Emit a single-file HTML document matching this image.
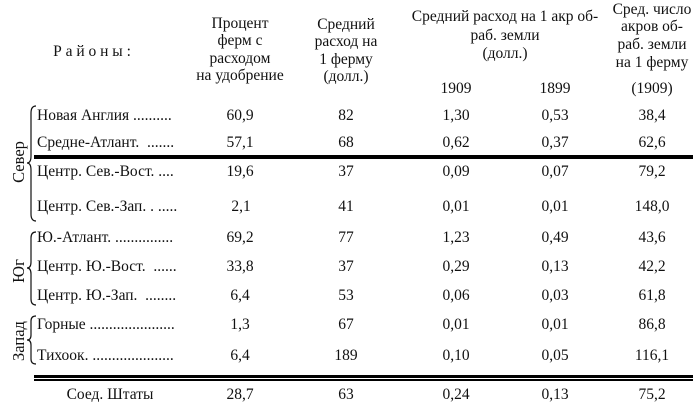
<!DOCTYPE html>
<html><head><meta charset="utf-8">
<style>
html,body{margin:0;padding:0;background:#fff;}
body{width:696px;height:410px;position:relative;overflow:hidden;font-family:"Liberation Serif","Noto Serif CJK SC",serif;font-size:15.5px;color:#111;}
.c{position:absolute;width:160px;margin-left:-80px;text-align:center;line-height:17.5px;white-space:nowrap;}
.l{position:absolute;left:37px;line-height:17.5px;white-space:nowrap;}
.v{position:absolute;width:60px;height:18px;line-height:18px;text-align:center;transform:rotate(-90deg);white-space:nowrap;font-size:16.5px;}
.bar{position:absolute;left:34px;width:659px;background:#000;}
</style></head><body>

<div class="c" style="left:92px;top:43px;">Р а й о н ы :</div>

<div class="c" style="left:240px;top:14.5px;">Процент<br>ферм с<br>расходом<br>на удобрение</div>
<div class="c" style="left:346px;top:15.5px;">Средний<br>расход на<br>1 ферму<br>(долл.)</div>
<div class="c" style="left:505px;top:8px;width:220px;margin-left:-110px;line-height:18.5px;">Средний расход на 1 акр об-<br>раб. земли<br>(долл.)</div>
<div class="c" style="left:652px;top:0.5px;line-height:17.7px;">Сред. число<br>акров об-<br>раб. земли<br>на 1 ферму</div>
<div class="c" style="left:456px;top:80.2px;">1909</div>
<div class="c" style="left:555px;top:80.2px;">1899</div>
<div class="c" style="left:652px;top:80.2px;">(1909)</div>

<!-- rows -->
<div class="l" style="top:107.2px;">Новая Англия ..........</div>
<div class="c" style="left:240px;top:107.2px;">60,9</div><div class="c" style="left:346px;top:107.2px;">82</div><div class="c" style="left:456px;top:107.2px;">1,30</div><div class="c" style="left:555px;top:107.2px;">0,53</div><div class="c" style="left:652px;top:107.2px;">38,4</div>

<div class="l" style="top:134.2px;">Средне-Атлант. &nbsp;.......</div>
<div class="c" style="left:240px;top:134.2px;">57,1</div><div class="c" style="left:346px;top:134.2px;">68</div><div class="c" style="left:456px;top:134.2px;">0,62</div><div class="c" style="left:555px;top:134.2px;">0,37</div><div class="c" style="left:652px;top:134.2px;">62,6</div>

<div class="bar" style="top:155px;height:4px;"></div>

<div class="l" style="top:163.2px;">Центр. Сев.-Вост. ....</div>
<div class="c" style="left:240px;top:163.2px;">19,6</div><div class="c" style="left:346px;top:163.2px;">37</div><div class="c" style="left:456px;top:163.2px;">0,09</div><div class="c" style="left:555px;top:163.2px;">0,07</div><div class="c" style="left:652px;top:163.2px;">79,2</div>

<div class="l" style="top:198.2px;">Центр. Сев.-Зап. . .....</div>
<div class="c" style="left:241px;top:198.2px;">2,1</div><div class="c" style="left:346px;top:198.2px;">41</div><div class="c" style="left:456px;top:198.2px;">0,01</div><div class="c" style="left:555px;top:198.2px;">0,01</div><div class="c" style="left:652px;top:198.2px;">148,0</div>

<div class="l" style="top:229.2px;">Ю.-Атлант. ...............</div>
<div class="c" style="left:240px;top:229.2px;">69,2</div><div class="c" style="left:346px;top:229.2px;">77</div><div class="c" style="left:456px;top:229.2px;">1,23</div><div class="c" style="left:555px;top:229.2px;">0,49</div><div class="c" style="left:652px;top:229.2px;">43,6</div>

<div class="l" style="top:258.2px;">Центр. Ю.-Вост. &nbsp;......</div>
<div class="c" style="left:240px;top:258.2px;">33,8</div><div class="c" style="left:346px;top:258.2px;">37</div><div class="c" style="left:456px;top:258.2px;">0,29</div><div class="c" style="left:555px;top:258.2px;">0,13</div><div class="c" style="left:652px;top:258.2px;">42,2</div>

<div class="l" style="top:287.2px;">Центр. Ю.-Зап. &nbsp;........</div>
<div class="c" style="left:240px;top:287.2px;">6,4</div><div class="c" style="left:346px;top:287.2px;">53</div><div class="c" style="left:456px;top:287.2px;">0,06</div><div class="c" style="left:555px;top:287.2px;">0,03</div><div class="c" style="left:652px;top:287.2px;">61,8</div>

<div class="l" style="top:316.2px;">Горные ......................</div>
<div class="c" style="left:240px;top:316.2px;">1,3</div><div class="c" style="left:346px;top:316.2px;">67</div><div class="c" style="left:456px;top:316.2px;">0,01</div><div class="c" style="left:555px;top:316.2px;">0,01</div><div class="c" style="left:652px;top:316.2px;">86,8</div>

<div class="l" style="top:347.2px;">Тихоок. .....................</div>
<div class="c" style="left:240px;top:347.2px;">6,4</div><div class="c" style="left:346px;top:347.2px;">189</div><div class="c" style="left:456px;top:347.2px;">0,10</div><div class="c" style="left:555px;top:347.2px;">0,05</div><div class="c" style="left:652px;top:347.2px;">116,1</div>

<div class="bar" style="top:375px;height:2.5px;"></div>
<div class="bar" style="top:378.8px;height:2.5px;"></div>

<div class="c" style="left:110px;top:386.2px;">Соед. Штаты</div>
<div class="c" style="left:240px;top:386.2px;">28,7</div><div class="c" style="left:346px;top:386.2px;">63</div><div class="c" style="left:456px;top:386.2px;">0,24</div><div class="c" style="left:555px;top:386.2px;">0,13</div><div class="c" style="left:652px;top:386.2px;">75,2</div>

<!-- braces -->
<svg width="696" height="410" style="position:absolute;left:0;top:0;" xmlns="http://www.w3.org/2000/svg">
<g fill="none" stroke="#111" stroke-width="1.2">
<path d="M36,106 Q31,106 31,113 L31,156 Q31,163 27,163 Q31,163 31,170 L31,214 Q31,221 36,221"/>
<path d="M36,232 Q31,232 31,238 L31,262 Q31,268 27,268 Q31,268 31,274 L31,299 Q31,305 36,305"/>
<path d="M36,316 Q31,316 31,321 L31,335 Q31,340 27,340 Q31,340 31,345 L31,359 Q31,364 36,364"/>
</g>
</svg>

<div class="v" style="left:-11px;top:153px;">Север</div>
<div class="v" style="left:-11px;top:262px;">Юг</div>
<div class="v" style="left:-11px;top:332px;">Запад</div>

</body></html>
